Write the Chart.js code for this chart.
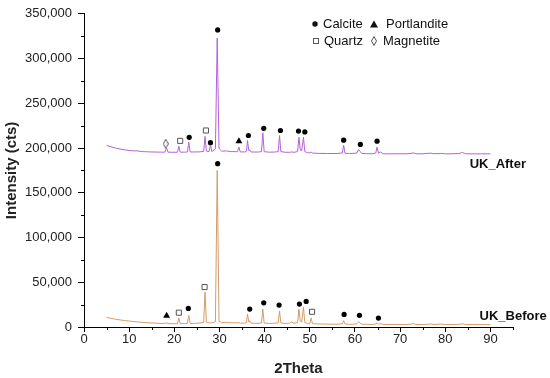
<!DOCTYPE html>
<html>
<head>
<meta charset="utf-8">
<script src="https://cdn.jsdelivr.net/npm/chart.js@4"></script>
<style>
  body { margin: 0; background: #fff; }
</style>
</head>
<body>
<canvas id="xrd" width="550" height="378"></canvas>
<script>
// 2Theta sampling points shared by both patterns
const twoTheta = [
  5.0, 6.0, 7.0, 8.0, 9.0, 10.0, 11.0, 11.8, 12.4, 13.0,
  14.0, 15.0, 16.0, 17.0, 17.9, 18.3, 18.6, 19.5, 20.7, 21.0,
  21.3, 22.2, 22.9, 23.2, 23.5, 24.5, 25.5, 26.5, 26.8, 27.1,
  27.7, 28.0, 28.3, 29.1, 29.5, 29.9, 30.5, 31.5, 32.5, 33.5,
  34.0, 34.3, 34.6, 35.6, 36.0, 36.2, 36.5, 36.7, 37.0, 38.5,
  39.3, 39.6, 39.9, 41.0, 42.2, 43.0, 43.3, 43.6, 44.5, 45.5,
  46.0, 46.5, 47.3, 47.6, 47.9, 48.2, 48.6, 48.9, 49.5, 50.0,
  50.3, 50.6, 52.0, 54.0, 56.0, 57.2, 57.5, 57.8, 58.8, 60.4,
  60.8, 61.1, 61.5, 62.5, 64.0, 64.6, 64.9, 65.2, 65.7, 66.2,
  68.0, 70.0, 71.5, 73.0, 73.5, 75.0, 76.8, 77.5, 79.0, 80.0,
  81.5, 83.0, 83.8, 84.5, 86.0, 88.0, 90.0
];

// intensities in cts
const ukBefore = [
  10800, 9600, 8700, 7900, 7200, 6600, 6100, 5700, 5400, 5100,
  4800, 4500, 4200, 4000, 3900, 4600, 3800, 3700, 3600, 10000,
  3700, 3800, 4000, 13000, 4000, 4100, 4300, 5000, 39000, 5500,
  4600, 4800, 4600, 6000, 175000, 6500, 4800, 5300, 4700, 4800,
  4500, 5000, 4400, 4300, 5000, 14500, 5500, 7000, 4200, 4100,
  4500, 20000, 4400, 4000, 4300, 4600, 18000, 4500, 4000, 4200,
  5500, 4100, 5000, 20000, 6500, 5500, 22000, 5000, 3800, 3800,
  10000, 3700, 3400, 3200, 3100, 3500, 7000, 3400, 3000, 3300,
  6000, 4500, 3200, 3000, 2900, 3300, 4800, 3200, 3800, 2900,
  2800, 2900, 2700, 3800, 2800, 2700, 3400, 2800, 3300, 2700,
  2800, 3000, 3600, 2800, 2700, 2700, 2600
];

const ukAfter = [
  203000, 201300, 200000, 198900, 198000, 197300, 196800, 196900, 196300, 196000,
  195800, 195600, 195500, 195400, 195400, 200000, 195400, 195300, 195300, 202000,
  195400, 195400, 195500, 206500, 195600, 195600, 195700, 196200, 213000, 196500,
  196000, 203500, 196000, 199000, 323000, 199500, 196500, 196800, 196000, 196000,
  195800, 201000, 195700, 195600, 196500, 208500, 197000, 198000, 195600, 195500,
  196000, 217000, 195900, 195400, 195500, 196000, 214000, 196000, 195300, 195200,
  195600, 195200, 196000, 212000, 197500, 197000, 212000, 196000, 194800, 194600,
  195500, 194400, 194000, 193900, 193800, 194500, 203000, 194200, 193800, 194300,
  198500, 196500, 194000, 193700, 193600, 194500, 201000, 194300, 195500, 193600,
  193500, 193600, 193500, 194500, 193600, 193500, 194300, 193600, 194000, 193500,
  193600, 193800, 195000, 193600, 193500, 193500, 193500
];

// phase markers above the peaks
const calciteTheta = [23.3, 28.0, 29.6, 36.4, 39.8, 43.5, 47.5, 48.9, 57.5, 61.2, 64.9,
                      23.1, 29.6, 36.7, 39.8, 43.2, 47.7, 49.2, 57.6, 61.0, 65.2];
const calciteCounts = [212000, 206000, 332000, 214000, 222000, 219600, 219000, 218000, 208800, 204000, 207700,
                       20800, 182500, 20000, 27000, 24500, 25600, 28600, 14000, 13000, 10000];
const portlanditeTheta = [34.3, 18.3];
const portlanditeCounts = [207700, 12600];
const quartzTheta = [21.3, 27.0, 21.0, 26.7, 50.5];
const quartzCounts = [208000, 219600, 16000, 44600, 17000];
const magnetiteTheta = [18.1];
const magnetiteCounts = [204800];

const xTicks = [0, 10, 20, 30, 40, 50, 60, 70, 80, 90];

function toPoints(xs, ys) {
    return xs.map((x, i) => ({ x: x, y: ys[i] }));
}

// tall open diamond used for magnetite
function diamondCanvas(w, h) {
    const c = document.createElement('canvas');
    c.width = w;
    c.height = h;
    const g = c.getContext('2d');
    g.strokeStyle = '#555';
    g.lineWidth = 1;
    g.beginPath();
    g.moveTo(w / 2, 0.5);
    g.lineTo(w - 0.5, h / 2);
    g.lineTo(w / 2, h - 0.5);
    g.lineTo(0.5, h / 2);
    g.closePath();
    g.stroke();
    return c;
}
const diamond = diamondCanvas(6, 10);

const FONT = 'Liberation Sans, Arial, sans-serif';

// short minor ticks between the labelled ones
const minorTicks = {
    id: 'minorTicks',
    afterDraw(chart) {
        const ctx = chart.ctx;
        const xs = chart.scales.x, ys = chart.scales.y;
        ctx.save();
        ctx.strokeStyle = '#000';
        ctx.lineWidth = 1;
        ctx.beginPath();
        for (let v = 5; v <= 95; v += 10) {
            const px = Math.round(xs.getPixelForValue(v)) + 0.5;
            ctx.moveTo(px, xs.top);
            ctx.lineTo(px, xs.top + 3);
        }
        for (let v = 25000; v < 350000; v += 50000) {
            const py = Math.round(ys.getPixelForValue(v)) + 0.5;
            ctx.moveTo(ys.right - 3, py);
            ctx.lineTo(ys.right, py);
        }
        ctx.stroke();
        ctx.restore();
    }
};

// phase key and series names
const annotations = {
    id: 'annotations',
    afterDraw(chart) {
        const ctx = chart.ctx;
        const xs = chart.scales.x, ys = chart.scales.y;
        ctx.save();
        ctx.fillStyle = '#111';
        ctx.textBaseline = 'middle';
        ctx.textAlign = 'left';
        ctx.font = '13px ' + FONT;

        // row 1
        ctx.beginPath();
        ctx.arc(315, 24, 2.7, 0, Math.PI * 2);
        ctx.fill();
        ctx.fillText('Calcite', 323, 24);
        ctx.beginPath();
        ctx.moveTo(374, 20.5);
        ctx.lineTo(378, 27.5);
        ctx.lineTo(370, 27.5);
        ctx.closePath();
        ctx.fill();
        ctx.fillText('Portlandite', 386, 24);

        // row 2
        ctx.strokeStyle = '#555';
        ctx.lineWidth = 1;
        ctx.strokeRect(313.5, 38.5, 5, 5);
        ctx.fillText('Quartz', 324, 41);
        ctx.drawImage(diamond, 371, 36);
        ctx.fillText('Magnetite', 383, 41);

        ctx.font = 'bold 13px ' + FONT;
        ctx.fillText('UK_After', xs.getPixelForValue(85.4), ys.getPixelForValue(181700));
        ctx.fillText('UK_Before', xs.getPixelForValue(87.6), ys.getPixelForValue(11500));
        ctx.restore();
    }
};

const markerBase = { type: 'scatter', showLine: false, borderWidth: 1, pointHoverRadius: 0 };

new Chart(document.getElementById('xrd'), {
    type: 'line',
    data: {
        datasets: [
            {
                label: 'UK_After',
                data: toPoints(twoTheta, ukAfter),
                borderColor: '#b462d8',
                borderWidth: 1,
                pointRadius: 0,
                tension: 0
            },
            {
                label: 'UK_Before',
                data: toPoints(twoTheta, ukBefore),
                borderColor: '#d49c68',
                borderWidth: 1,
                pointRadius: 0,
                tension: 0
            },
            Object.assign({}, markerBase, {
                label: 'Calcite',
                data: toPoints(calciteTheta, calciteCounts),
                pointStyle: 'circle', pointRadius: 2.6,
                backgroundColor: '#000', borderColor: '#000', borderWidth: 0
            }),
            Object.assign({}, markerBase, {
                label: 'Portlandite',
                data: toPoints(portlanditeTheta, portlanditeCounts),
                pointStyle: 'triangle', pointRadius: 4,
                backgroundColor: '#000', borderColor: '#000', borderWidth: 0
            }),
            Object.assign({}, markerBase, {
                label: 'Quartz',
                data: toPoints(quartzTheta, quartzCounts),
                pointStyle: 'rect', pointRadius: 3.6,
                backgroundColor: '#fff', borderColor: '#555'
            }),
            Object.assign({}, markerBase, {
                label: 'Magnetite',
                data: toPoints(magnetiteTheta, magnetiteCounts),
                pointStyle: diamond, pointRadius: 4
            })
        ]
    },
    options: {
        responsive: false,
        animation: false,
        devicePixelRatio: 1,
        layout: { padding: { left: 0, top: 13, right: 37, bottom: 0 } },
        plugins: {
            legend: { display: false },
            tooltip: { enabled: false }
        },
        scales: {
            x: {
                type: 'linear',
                min: 0,
                max: 95,
                afterFit: s => { s.height = 51; },
                afterBuildTicks: s => { s.ticks = xTicks.map(v => ({ value: v })); },
                border: { display: true, color: '#000', width: 1 },
                grid: { drawOnChartArea: false, drawTicks: true, tickLength: 5, tickColor: '#000' },
                ticks: {
                    stepSize: 10,
                    includeBounds: false,
                    padding: 0,
                    color: '#222',
                    font: { family: FONT, size: 13 }
                },
                title: {
                    display: true,
                    text: '2Theta',
                    color: '#222',
                    padding: { top: 0, bottom: 0 },
                    font: { family: FONT, size: 15, weight: 'bold' }
                }
            },
            y: {
                min: 0,
                max: 350000,
                afterFit: s => { s.width = 84; },
                border: { display: true, color: '#000', width: 1 },
                grid: { drawOnChartArea: false, drawTicks: true, tickLength: 6, tickColor: '#000' },
                ticks: {
                    stepSize: 50000,
                    padding: 6,
                    color: '#222',
                    font: { family: FONT, size: 13 },
                    callback: v => v.toLocaleString('en-US')
                },
                title: {
                    display: true,
                    text: 'Intensity (cts)',
                    color: '#222',
                    padding: { top: 3, bottom: 3 },
                    font: { family: FONT, size: 15, weight: 'bold' }
                }
            }
        }
    },
    plugins: [minorTicks, annotations]
});
</script>
</body>
</html>
